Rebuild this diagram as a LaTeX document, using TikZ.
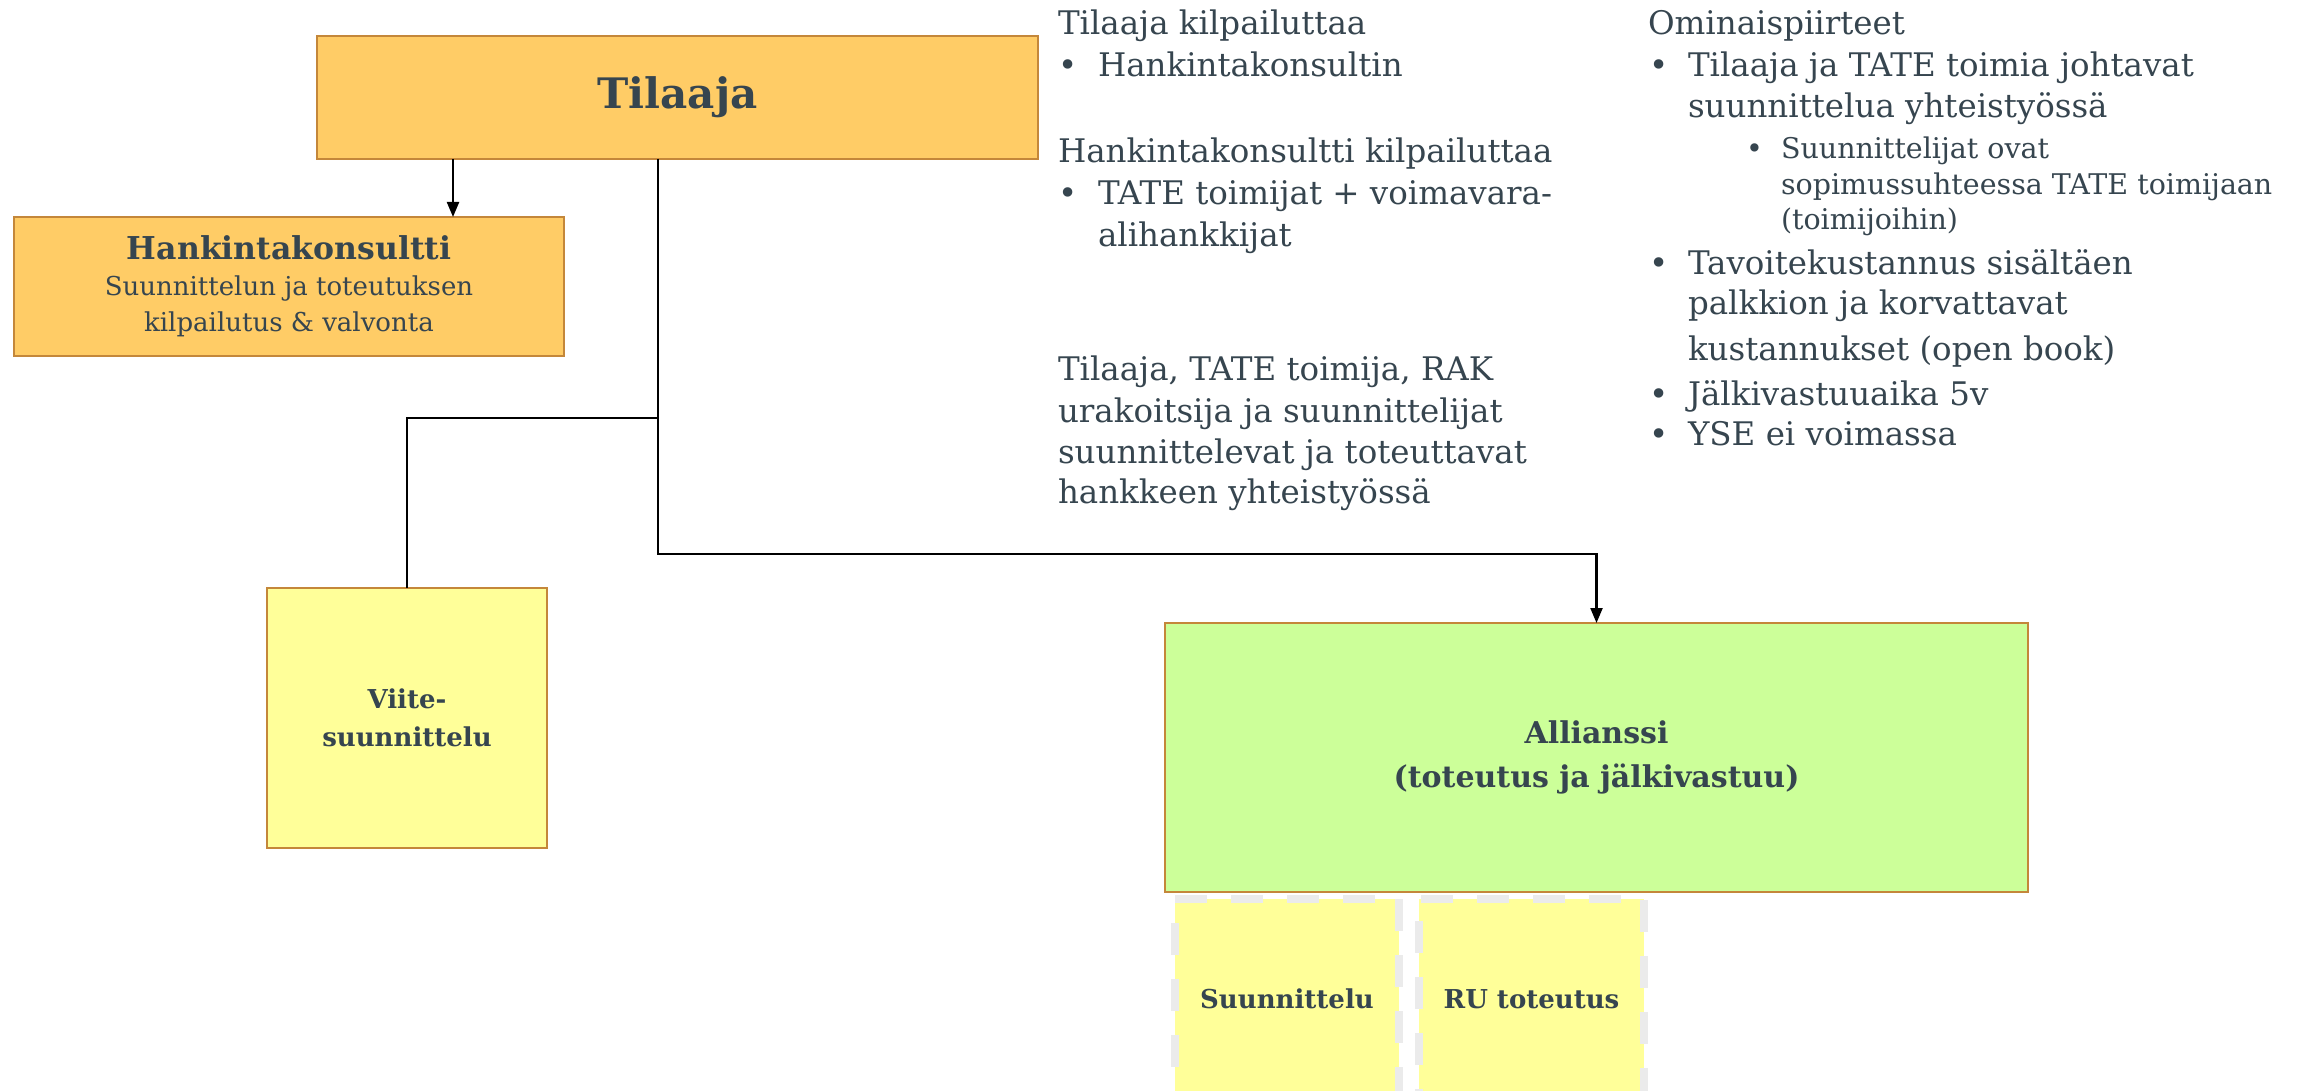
\documentclass[tikz,border=0pt]{standalone}
\usepackage{fontspec}
\setmainfont{DejaVu Serif}
\usetikzlibrary{arrows.meta}
\definecolor{txt}{HTML}{36454F}
\definecolor{orfill}{HTML}{FFCC66}
\definecolor{brd}{HTML}{C4873A}
\definecolor{yfill}{HTML}{FFFF99}
\definecolor{gfill}{HTML}{CCFF99}
\definecolor{dashgray}{HTML}{EBEBEB}
\begin{document}
\begin{tikzpicture}[x=1pt,y=-1pt,
  box/.style={draw=brd, line width=2pt, inner sep=0pt, outer sep=0pt, anchor=north west, align=center, text=txt},
  obox/.style={box, fill=orfill},
  ybox/.style={box, fill=yfill},
  gbox/.style={box, fill=gfill},
  dbox/.style={box, draw=dashgray, fill=yfill, line width=8pt, dash pattern=on 32pt off 24pt},
  tl/.style={anchor=base west, inner sep=0pt, outer sep=0pt, text=txt, font=\fontsize{32.5}{40}\selectfont},
  tls/.style={tl, font=\fontsize{28.5}{34}\selectfont},
  conn/.style={draw=black, line width=2.2pt},
  arr/.style={conn, -{Triangle[length=15pt,width=12pt]}}
]
\useasboundingbox (0,0) rectangle (2316,1091);
\clip (0,0) rectangle (2316,1091);

% boxes
\node[obox, minimum width=721pt, minimum height=123pt, font=\bfseries\fontsize{42}{50}\selectfont] (tilaaja) at (317,36) {Tilaaja};
\node[obox, minimum width=550pt, minimum height=139pt, font=\fontsize{26}{36}\selectfont] (hank) at (14,217)
  {{\bfseries\fontsize{31.5}{36}\selectfont Hankintakonsultti}\\Suunnittelun ja toteutuksen\\kilpailutus \& valvonta};
\node[ybox, minimum width=280pt, minimum height=260pt, font=\bfseries\fontsize{26}{38}\selectfont] (viite) at (267,588) {Viite-\\suunnittelu};
\node[gbox, minimum width=863pt, minimum height=269pt, font=\bfseries\fontsize{30}{44}\selectfont] (allianssi) at (1165,623) {Allianssi\\(toteutus ja jälkivastuu)};
\node[dbox, minimum width=224pt, minimum height=200pt, font=\bfseries\fontsize{26}{32}\selectfont] (suun) at (1175,899) {Suunnittelu};
\node[dbox, minimum width=225pt, minimum height=200pt, font=\bfseries\fontsize{26}{32}\selectfont] (ru) at (1419,899) {RU toteutus};

% connectors
\coordinate (c1) at (453,0);
\coordinate (j1) at (658,418);
\coordinate (j2) at (658,554);
\draw[arr] (tilaaja.south -| c1) -- (hank.north -| c1);
\draw[arr] (tilaaja.south -| j1) -- (j2) -| (allianssi.north);
\draw[conn] (j1) -| (viite.north);

% left text block
\node[tl] (l1) at (1058,35) {Tilaaja kilpailuttaa};
\node[tl] (l2b) at (1058,77) {•};
\node[tl] (l2) at (1098,77) {Hankintakonsultin};
\node[tl] (l3) at (1058,163) {Hankintakonsultti kilpailuttaa};
\node[tl] (l4b) at (1058,205) {•};
\node[tl] (l4) at (1098,205) {TATE toimijat + voimavara-};
\node[tl] (l5) at (1098,247) {alihankkijat};
\node[tl] (l6) at (1058,380) {Tilaaja, TATE toimija, RAK};
\node[tl] (l7) at (1058,422) {urakoitsija ja suunnittelijat};
\node[tl] (l8) at (1058,463) {suunnittelevat ja toteuttavat};
\node[tl] (l9) at (1058,503) {hankkeen yhteistyössä};

% right text block
\node[tl] (r1) at (1648,35) {Ominaispiirteet};
\node[tl] (r2b) at (1649,77) {•};
\node[tl] (r2) at (1688,77) {Tilaaja ja TATE toimia johtavat};
\node[tl] (r3) at (1688,118) {suunnittelua yhteistyössä};
\node[tls] (r4b) at (1746,159) {•};
\node[tls] (r4) at (1781,159) {Suunnittelijat ovat};
\node[tls] (r5) at (1781,195) {sopimussuhteessa TATE toimijaan};
\node[tls] (r6) at (1781,230) {(toimijoihin)};
\node[tl] (r7b) at (1649,275) {•};
\node[tl] (r7) at (1688,275) {Tavoitekustannus sisältäen};
\node[tl] (r8) at (1688,315) {palkkion ja korvattavat};
\node[tl] (r9) at (1688,360) {kustannukset (open book)};
\node[tl] (r10b) at (1649,405) {•};
\node[tl] (r10) at (1688,405) {Jälkivastuuaika 5v};
\node[tl] (r11b) at (1649,445) {•};
\node[tl] (r11) at (1688,445) {YSE ei voimassa};
\end{tikzpicture}
\end{document}
